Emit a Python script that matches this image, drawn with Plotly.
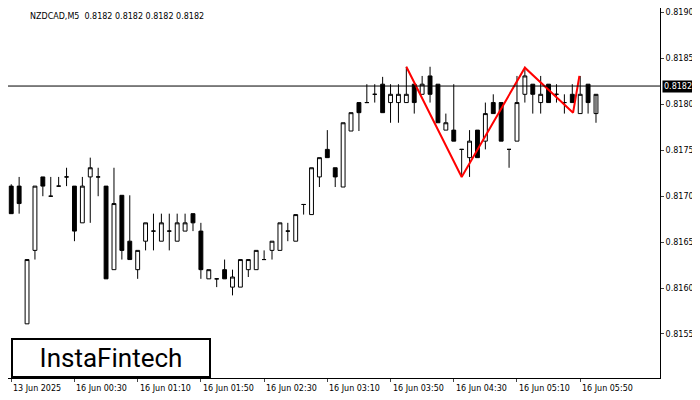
import plotly.graph_objects as go

idx = list(range(75))
opens = [.81711, .81711, .81561, .81641, .81721, .81700, .81711, .81721, .81711, .81671,
         .81721, .81721, .81711, .81620, .81701, .81651, .81620, .81651, .81662, .81651,
         .81662, .81651, .81662, .81681, .81662, .81610, .81610, .81620, .81601, .81601,
         .81620, .81620, .81631, .81641, .81641, .81662, .81651, .81691, .81680, .81721,
         .81751, .81731, .81710, .81771, .81802, .81802, .81811, .81822, .81802, .81802,
         .81802, .81822, .81811, .81831, .81822, .81772, .81772, .81751, .81742, .81772,
         .81760, .81802, .81802, .81751, .81760, .81811, .81822, .81802, .81822, .81811,
         .81802, .81811, .81790, .81822, .81790]
highs = [.81713, .81721, .81631, .81711, .81721, .81721, .81721, .81731, .81711, .81721,
         .81742, .81731, .81711, .81731, .81701, .81701, .81641, .81671, .81681, .81681,
         .81681, .81681, .81681, .81681, .81671, .81620, .81610, .81631, .81620, .81631,
         .81631, .81641, .81641, .81651, .81671, .81671, .81680, .81691, .81731, .81742,
         .81772, .81731, .81780, .81791, .81802, .81822, .81822, .81830, .81822, .81822,
         .81841, .81822, .81831, .81841, .81822, .81790, .81822, .81751, .81772, .81772,
         .81802, .81811, .81802, .81751, .81831, .81841, .81822, .81831, .81822, .81822,
         .81811, .81822, .81831, .81822, .81790]
lows = [.81681, .81681, .81561, .81631, .81700, .81700, .81711, .81711, .81651, .81671,
        .81671, .81700, .81610, .81620, .81631, .81631, .81610, .81641, .81641, .81651,
        .81641, .81651, .81662, .81662, .81610, .81610, .81601, .81610, .81592, .81601,
        .81612, .81620, .81631, .81631, .81641, .81651, .81651, .81680, .81680, .81710,
        .81742, .81710, .81710, .81771, .81771, .81802, .81802, .81791, .81780, .81780,
        .81802, .81790, .81811, .81802, .81780, .81772, .81760, .81721, .81721, .81742,
        .81751, .81790, .81760, .81731, .81760, .81802, .81790, .81790, .81802, .81802,
        .81790, .81802, .81790, .81790, .81780]
closes = [.81681, .81692, .81631, .81711, .81711, .81700, .81711, .81721, .81662, .81711,
          .81731, .81721, .81610, .81692, .81641, .81631, .81641, .81671, .81662, .81671,
          .81662, .81671, .81671, .81671, .81620, .81620, .81610, .81610, .81612, .81631,
          .81631, .81641, .81631, .81651, .81671, .81662, .81680, .81691, .81731, .81742,
          .81742, .81721, .81780, .81791, .81791, .81802, .81811, .81791, .81811, .81811,
          .81811, .81802, .81822, .81811, .81780, .81780, .81760, .81751, .81760, .81742,
          .81790, .81790, .81760, .81751, .81802, .81831, .81811, .81811, .81802, .81811,
          .81802, .81802, .81811, .81802, .81811]

pattern_x = [50, 57, 65, 71.1, 71.9]
pattern_y = [.81841, .81721, .81840, .81791, .81831]

current_price = 0.8182
tick_idx = [0, 8, 16, 24, 32, 40, 48, 56, 64, 72]
tick_text = ["13 Jun 2025", "16 Jun 00:30", "16 Jun 01:10", "16 Jun 01:50", "16 Jun 02:30",
             "16 Jun 03:10", "16 Jun 03:50", "16 Jun 04:30", "16 Jun 05:10", "16 Jun 05:50"]
price_ticks = [0.8155, 0.8160, 0.8165, 0.8170, 0.8175, 0.8180, 0.8185, 0.8190]

fig = go.Figure()
fig.add_trace(go.Candlestick(
    x=idx, open=opens, high=highs, low=lows, close=closes,
    increasing=dict(line=dict(color="black", width=1), fillcolor="white"),
    decreasing=dict(line=dict(color="black", width=1), fillcolor="black"),
    whiskerwidth=0, showlegend=False, hoverinfo="skip"))
fig.add_trace(go.Scatter(x=pattern_x, y=pattern_y, mode="lines",
                         line=dict(color="red", width=2), showlegend=False))
fig.add_hline(y=current_price, line=dict(color="black", width=1))

annotations = [
    dict(text="NZDCAD,M5  0.8182 0.8182 0.8182 0.8182", xref="paper", yref="paper",
         x=0.03, y=0.995, xanchor="left", yanchor="top", showarrow=False,
         font=dict(size=8)),
    dict(text="%.4f" % current_price, xref="paper", yref="y", x=1.0, y=current_price,
         xanchor="left", showarrow=False, bgcolor="black",
         font=dict(color="white", size=8), xshift=2),
    dict(text="InstaFintech", xref="paper", yref="paper", x=0.005, y=0.0,
         xanchor="left", yanchor="bottom", showarrow=False,
         font=dict(size=26, family="Roboto", color="black"),
         bgcolor="white", bordercolor="black", borderwidth=2, borderpad=3, width=190),
]
for t, lab in zip(tick_idx, tick_text):
    annotations.append(dict(text=lab, xref="x", yref="paper", x=t, y=0, yshift=-4,
                            xanchor="left", yanchor="top", showarrow=False,
                            font=dict(size=8)))

fig.update_layout(
    width=692, height=392, margin=dict(l=0, r=40, t=0, b=22),
    paper_bgcolor="white", plot_bgcolor="white",
    font=dict(family="DejaVu Sans", size=8, color="black"),
    xaxis=dict(range=[-0.41, 82.1], tickvals=tick_idx, showticklabels=False,
               rangeslider=dict(visible=False), showgrid=False, showline=True,
               linecolor="black", mirror=True, ticks="outside", ticklen=3,
               zeroline=False, automargin=False),
    yaxis=dict(range=[0.81502, 0.81905], side="right", tickvals=price_ticks,
               ticktext=["%.4f" % p for p in price_ticks],
               showgrid=False, showline=True, linecolor="black", mirror=True,
               ticks="outside", ticklen=3, zeroline=False, automargin=False),
    annotations=annotations,
)

fig.write_html("out.html")
